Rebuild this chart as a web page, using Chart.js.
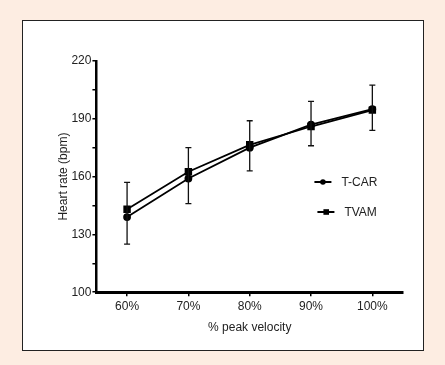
<!DOCTYPE html>
<html>
<head>
<meta charset="utf-8">
<script src="https://cdn.jsdelivr.net/npm/chart.js@4/dist/chart.umd.min.js"></script>
<style>
  html, body { margin: 0; padding: 0; }
  body { width: 445px; height: 365px; background: #fdede2; position: relative; overflow: hidden; }
  #box { position: absolute; left: 22px; top: 20px; width: 400px; height: 329px; background: #fff; border: 1px solid #222; }
  #box canvas { position: absolute; left: 0; top: 0; }
</style>
</head>
<body>
<div id="box"><canvas id="hrChart" width="400" height="329"></canvas></div>
<script>
// Data
const categories = ['60%', '70%', '80%', '90%', '100%'];
const tcar = [139, 159, 175, 187, 195];
const tvam = [143, 162.5, 176.5, 186, 194.5];
const errorTop = [157, 175, 189, 199, 207.5];
const errorBottom = [125, 146, 163, 176, 184];
const yTicks = [100, 130, 160, 190, 220];

// error bars, drawn through the y scale
const errorBars = {
    id: 'errorBars',
    afterDatasetsDraw(chart) {
        const { ctx, scales: { x, y } } = chart;
        ctx.save();
        ctx.strokeStyle = '#111';
        ctx.lineWidth = 1.3;
        categories.forEach((c, i) => {
            const px = x.getPixelForValue(i);
            const top = y.getPixelForValue(errorTop[i]);
            const bot = y.getPixelForValue(errorBottom[i]);
            ctx.beginPath();
            ctx.moveTo(px, top); ctx.lineTo(px, bot);
            ctx.moveTo(px - 3, top); ctx.lineTo(px + 3, top);
            ctx.moveTo(px - 3, bot); ctx.lineTo(px + 3, bot);
            ctx.stroke();
        });
        ctx.restore();
    }
};

// legend inside plot, right side
const sideLegend = {
    id: 'sideLegend',
    afterDraw(chart) {
        const { ctx, chartArea } = chart;
        const items = [
            { label: 'T-CAR', style: 'circle', dx: 0, y: 161 },
            { label: 'TVAM', style: 'rect', dx: 3, y: 191 }
        ];
        ctx.save();
        ctx.font = '12px "Liberation Sans", Arial, sans-serif';
        ctx.textBaseline = 'middle';
        items.forEach(it => {
            const x0 = chartArea.left + 218 + it.dx;
            ctx.strokeStyle = '#000';
            ctx.lineWidth = 2;
            ctx.beginPath();
            ctx.moveTo(x0, it.y); ctx.lineTo(x0 + 17, it.y);
            ctx.stroke();
            ctx.fillStyle = '#000';
            if (it.style === 'circle') {
                ctx.beginPath(); ctx.arc(x0 + 8.5, it.y, 2.8, 0, Math.PI * 2); ctx.fill();
            } else {
                ctx.fillRect(x0 + 6, it.y - 2.8, 5.6, 5.6);
            }
            ctx.fillStyle = '#222';
            ctx.fillText(it.label, x0 + 27, it.y + 1);
        });
        ctx.restore();
    }
};

const ctx = document.getElementById('hrChart').getContext('2d');
new Chart(ctx, {
    type: 'line',
    data: {
        labels: categories,
        datasets: [{
            label: 'T-CAR',
            data: tcar,
            borderColor: '#000',
            backgroundColor: '#000',
            borderWidth: 1.8,
            pointStyle: 'circle',
            pointRadius: 3,
            fill: false
        }, {
            label: 'TVAM',
            data: tvam,
            borderColor: '#000',
            backgroundColor: '#000',
            borderWidth: 1.8,
            pointStyle: 'rect',
            pointRadius: 4,
            fill: false
        }]
    },
    options: {
        responsive: false,
        animation: false,
        layout: { padding: { left: 29, top: 40, right: 20, bottom: 11 } },
        plugins: {
            legend: { display: false },
            tooltip: { enabled: false }
        },
        scales: {
            x: {
                offset: true,
                grid: { display: true, drawOnChartArea: false, offset: false, tickLength: 4, color: '#000', lineWidth: 1.5 },
                border: { display: true, color: '#000', width: 3 },
                ticks: { color: '#222', font: { family: '"Liberation Sans", Arial, sans-serif', size: 12 }, padding: 3, maxRotation: 0 },
                title: { display: true, text: '% peak velocity', color: '#222', font: { family: '"Liberation Sans", Arial, sans-serif', size: 12 }, padding: { top: 4 } }
            },
            y: {
                min: 100,
                max: 220,
                grid: { display: true, drawOnChartArea: false, tickLength: 4, color: '#000', lineWidth: 1.5 },
                border: { display: true, color: '#000', width: 2.5 },
                ticks: {
                    stepSize: 15,
                    color: '#222',
                    padding: 1,
                    font: { family: '"Liberation Sans", Arial, sans-serif', size: 12 },
                    callback: v => yTicks.includes(v) ? v : ''
                },
                title: { display: true, text: 'Heart rate (bpm)', color: '#222', font: { family: '"Liberation Sans", Arial, sans-serif', size: 12 }, padding: { bottom: 0 } }
            }
        }
    },
    plugins: [errorBars, sideLegend]
});
</script>
</body>
</html>
